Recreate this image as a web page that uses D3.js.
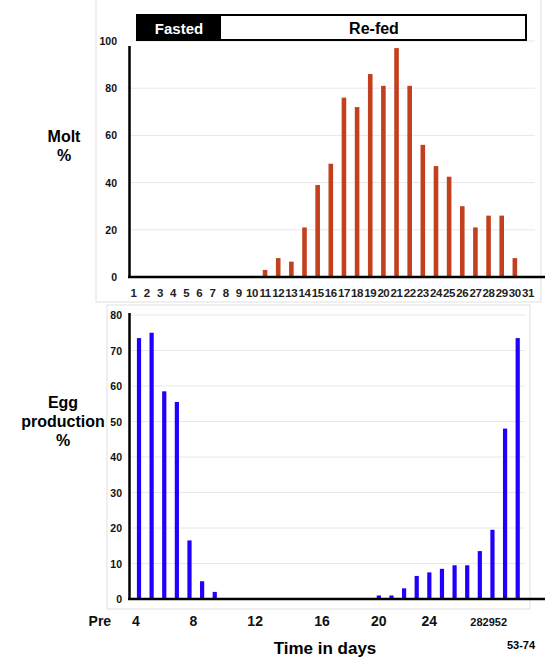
<!DOCTYPE html>
<html>
<head>
<meta charset="utf-8">
<script src="https://cdn.jsdelivr.net/npm/d3@7"></script>
<style>
  body { margin: 0; background: #fff; }
  svg { display: block; font-family: "Liberation Sans", Arial, sans-serif; }
</style>
</head>
<body>
<svg id="chart" width="545" height="660"></svg>
<script>
// molt % per day (days 1..31)
var molt_days = d3.range(1, 32);
var molt_values = [0, 0, 0, 0, 0, 0, 0, 0, 0, 0.5, 3, 8, 6.5, 21, 39, 48, 76, 72, 86, 81,
                   97, 81, 56, 47, 42.5, 30, 21, 26, 26, 8, 0];
var molt_ticks = [0, 20, 40, 60, 80, 100];

// egg production % per slot (31 slots)
var egg_slots = d3.range(0, 31);
var egg_values = [73.5, 75, 58.5, 55.5, 16.5, 5, 2, 0, 0, 0, 0, 0, 0, 0, 0, 0, 0, 0, 0,
                  1, 1, 3, 6.5, 7.5, 8.5, 9.5, 9.5, 13.5, 19.5, 48, 73.5];
var egg_ticks = [0, 10, 20, 30, 40, 50, 60, 70, 80];
// x labels of the lower chart, and the slot they sit under
var egg_labels = ["Pre", "4", "8", "12", "16", "20", "24", "282952"];
var egg_label_slots = [-3.1, -0.25, 4.3, 9.2, 14.5, 19, 23, 27.7];

var svg = d3.select("#chart");

// ---------- top panel ----------
svg.append("rect").attr("x", 96).attr("y", -2).attr("width", 445).attr("height", 304)
    .style("fill", "none").style("stroke", "#e4e4e4").style("stroke-width", 1.2);

var x1 = d3.scaleLinear().domain([1, 31]).range([133.6, 528]);
var y1 = d3.scaleLinear().domain([0, 100]).range([277, 41]);

svg.append("g").selectAll("line").data(molt_ticks).enter().append("line")
    .attr("x1", 130).attr("x2", 535)
    .attr("y1", d => y1(d)).attr("y2", d => y1(d))
    .style("stroke", "#e8e8e8").style("stroke-width", 1);

svg.append("g").selectAll("rect").data(molt_values).enter().append("rect")
    .attr("x", (d, i) => x1(molt_days[i]) - 2.3)
    .attr("width", 4.6)
    .attr("y", d => y1(d))
    .attr("height", d => y1(0) - y1(d))
    .style("fill", (d, i) => d < 1 ? "#e8b0a0" : "#c3401f");

svg.append("line").attr("x1", 129.5).attr("x2", 129.5).attr("y1", 46).attr("y2", y1(0) + 1)
    .style("stroke", "#000").style("stroke-width", 2.5);
svg.append("line").attr("x1", 128).attr("x2", 545).attr("y1", y1(0)).attr("y2", y1(0))
    .style("stroke", "#000").style("stroke-width", 2.5);

svg.append("g").selectAll("text").data(molt_ticks).enter().append("text")
    .attr("x", 117).attr("y", d => y1(d) + 4)
    .attr("text-anchor", "end")
    .style("font-size", "10.5px").style("font-weight", "bold").style("fill", "#111")
    .text(d => d);

svg.append("g").selectAll("text").data(molt_days).enter().append("text")
    .attr("x", d => x1(d)).attr("y", 297)
    .attr("text-anchor", "middle")
    .style("font-size", "11.5px").style("font-weight", "bold").style("fill", "#222")
    .style("letter-spacing", "-0.4px")
    .text(d => d);

// Fasted / Re-fed banner
var banner = svg.append("g");
banner.append("rect").attr("x", 137).attr("y", 15).attr("width", 389).attr("height", 25)
    .style("fill", "#fff").style("stroke", "#000").style("stroke-width", 2);
banner.append("rect").attr("x", 137).attr("y", 15).attr("width", 84).attr("height", 25)
    .style("fill", "#000");
banner.append("text").attr("x", 179).attr("y", 33.5).attr("text-anchor", "middle")
    .style("font-size", "15px").style("font-weight", "bold").style("fill", "#fff").text("Fasted");
banner.append("text").attr("x", 374).attr("y", 33.5).attr("text-anchor", "middle")
    .style("font-size", "16px").style("font-weight", "bold").style("fill", "#000").text("Re-fed");

svg.append("text").attr("x", 64).attr("y", 142).attr("text-anchor", "middle")
    .style("font-size", "16px").style("font-weight", "bold").text("Molt");
svg.append("text").attr("x", 64).attr("y", 161).attr("text-anchor", "middle")
    .style("font-size", "16px").style("font-weight", "bold").text("%");

// ---------- bottom panel ----------
svg.append("rect").attr("x", 107).attr("y", 305).attr("width", 423).attr("height", 304)
    .style("fill", "none").style("stroke", "#e4e4e4").style("stroke-width", 1.2);

var x2 = d3.scaleLinear().domain([0, 30]).range([139, 517.7]);
var y2 = d3.scaleLinear().domain([0, 80]).range([599, 315]);

svg.append("g").selectAll("line").data(egg_ticks).enter().append("line")
    .attr("x1", 130).attr("x2", 525)
    .attr("y1", d => y2(d)).attr("y2", d => y2(d))
    .style("stroke", "#e8e8e8").style("stroke-width", 1);

svg.append("g").selectAll("rect").data(egg_values).enter().append("rect")
    .attr("x", (d, i) => x2(egg_slots[i]) - 2.1)
    .attr("width", 4.2)
    .attr("y", d => y2(d))
    .attr("height", d => y2(0) - y2(d))
    .style("fill", "#1f00ff");

svg.append("line").attr("x1", 129.5).attr("x2", 129.5).attr("y1", 313).attr("y2", y2(0) + 1)
    .style("stroke", "#000").style("stroke-width", 2.5);
svg.append("line").attr("x1", 128).attr("x2", 545).attr("y1", y2(0)).attr("y2", y2(0))
    .style("stroke", "#000").style("stroke-width", 2.5);

svg.append("g").selectAll("text").data(egg_ticks).enter().append("text")
    .attr("x", 122).attr("y", d => y2(d) + 4)
    .attr("text-anchor", "end")
    .style("font-size", "10.5px").style("font-weight", "bold").style("fill", "#111")
    .text(d => d);

svg.append("g").selectAll("text").data(egg_labels).enter().append("text")
    .attr("x", (d, i) => x2(egg_label_slots[i]))
    .attr("y", 626)
    .attr("text-anchor", "middle")
    .style("font-size", d => d.length > 3 ? "11px" : "14px")
    .style("font-weight", "bold").style("fill", "#111")
    .text(d => d);

svg.append("text").attr("x", 325).attr("y", 654).attr("text-anchor", "middle")
    .style("font-size", "17px").style("font-weight", "bold").text("Time in days");
svg.append("text").attr("x", 521).attr("y", 649).attr("text-anchor", "middle")
    .style("font-size", "11px").style("font-weight", "bold").text("53-74");

svg.append("text").attr("x", 63).attr("y", 408).attr("text-anchor", "middle")
    .style("font-size", "16px").style("font-weight", "bold").text("Egg");
svg.append("text").attr("x", 63).attr("y", 427).attr("text-anchor", "middle")
    .style("font-size", "16px").style("font-weight", "bold").text("production");
svg.append("text").attr("x", 63).attr("y", 446).attr("text-anchor", "middle")
    .style("font-size", "16px").style("font-weight", "bold").text("%");
</script>
</body>
</html>
